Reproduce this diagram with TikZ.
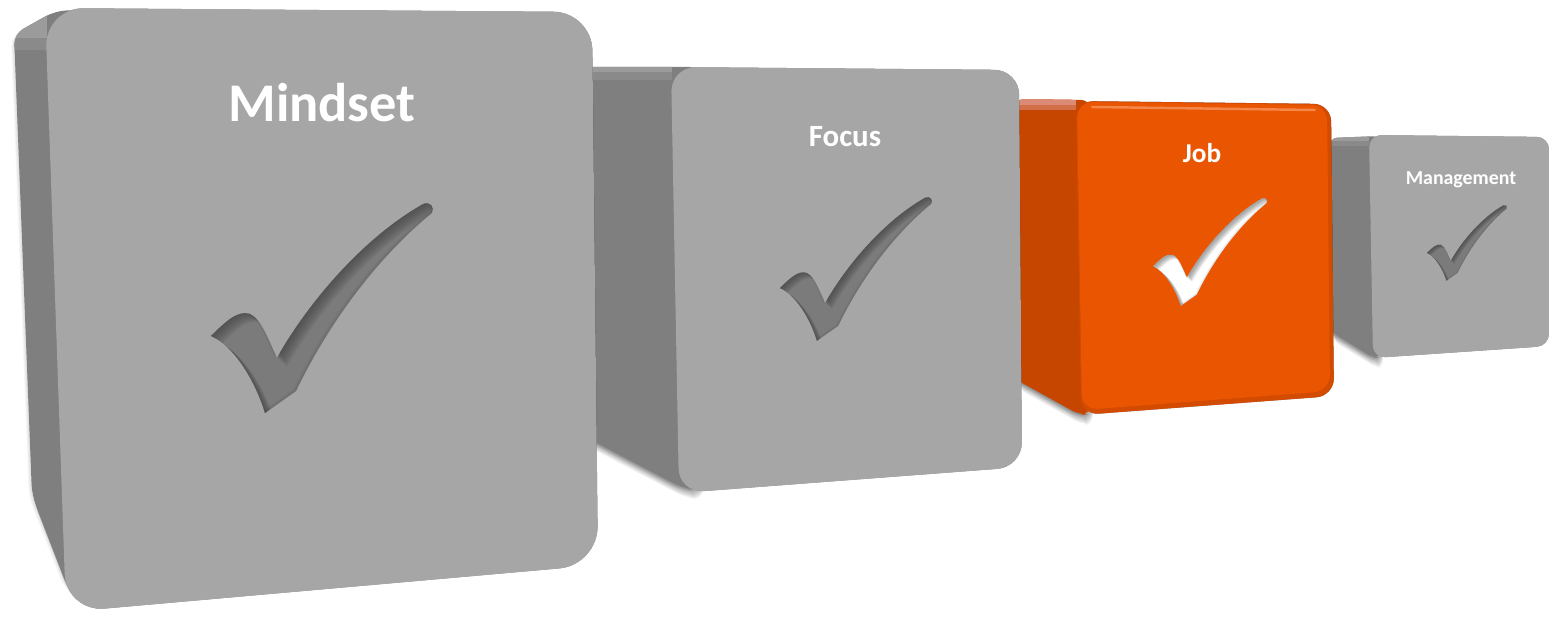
\documentclass[tikz,border=0pt]{standalone}
\usepackage{fontspec}
\setmainfont{Carlito}
\usetikzlibrary{calc}
\definecolor{frontgray}{HTML}{A6A6A6}
\definecolor{sidegray}{HTML}{7F7F7F}
\definecolor{stripegray}{HTML}{9B9B9B}
\definecolor{stripegrayb}{HTML}{8A8A8A}
\definecolor{checkgray}{HTML}{7B7B7B}
\definecolor{checkshade}{HTML}{3A3A3A}
\definecolor{orangefront}{HTML}{E95500}
\definecolor{orangeedge}{HTML}{D24B00}
\definecolor{orangeside}{HTML}{C64600}
\definecolor{orangestripe}{HTML}{DB8A76}
\definecolor{orangehi}{HTML}{F7955E}
\definecolor{whitecheck}{HTML}{FFFFFF}
\definecolor{whiteshade}{HTML}{5E5E5E}

\newcommand{\checkshape}{(0,0.599) .. controls (0.06,0.54) and (0.12,0.48) .. (0.175,0.50) .. controls (0.225,0.52) and (0.26,0.62) .. (0.297,0.698) .. controls (0.43,0.46) and (0.68,0.16) .. (0.955,0.005) .. controls (0.985,-0.01) and (1.01,0.02) .. (0.995,0.045) .. controls (0.78,0.22) and (0.55,0.50) .. (0.383,0.847) -- (0.243,0.946) .. controls (0.20,0.80) and (0.10,0.64) .. (0,0.599) -- cycle}

\newcommand{\drawcheck}[5]{%
  \begin{scope}[shift={(#1,#2)}, scale=#3]
    \fill[#4] \checkshape;
    \begin{scope}
      \clip \checkshape;
      \foreach \k in {1,...,7}{
        \begin{scope}[shift={(0.0065*\k,0.0055*\k)}]
          \fill[#5, opacity=0.11, even odd rule] (-1,-1) rectangle (2,2) \checkshape;
        \end{scope}}
      \foreach \k in {1,...,3}{
        \begin{scope}[shift={(-0.004*\k,-0.003*\k)}]
          \fill[#5, opacity=0.06, even odd rule] (-1,-1) rectangle (2,2) \checkshape;
        \end{scope}}
    \end{scope}
  \end{scope}}

\newcommand{\cubeshadow}[1]{%
  \foreach \i in {1,...,10}{\fill[black, opacity=0.045, shift={(0.3*\i,1.0*\i)}] #1;}
  \foreach \i in {1,...,4}{\fill[black, opacity=0.03, shift={(-0.8*\i,0.6*\i)}] #1;}}

\tikzset{
  lbl/.style={text=white, font=\bfseries, inner sep=0pt, anchor=base},
  frontface/.style={fill=frontgray},
  sideface/.style={fill=sidegray},
}

\begin{document}
\begin{tikzpicture}[x=0.02cm, y=-0.02cm]
\useasboundingbox (0,0) rectangle (1549,618);

% ---------------- Management (back) ----------------
\coordinate (gTL) at (1369,135);
\coordinate (gTR) at (1549,137);
\coordinate (gBR) at (1549,346);
\coordinate (gBL) at (1373,358);
\newcommand{\gside}{[rounded corners=4pt] (1380,250) -- (1380,357) -- (1374,358) -- (1330,331) -- (1330,138) -- (1380,136) -- cycle}
\newcommand{\gfront}{[rounded corners=7pt] ($(gTL)!.5!(gTR)$) -- (gTR) -- (gBR) -- (gBL) -- (gTL) -- cycle}
\cubeshadow{\gside \gfront}
\fill[sideface] \gside;
\begin{scope}
  \clip \gside;
  \fill[stripegray] (1320,120) rectangle (1369,141);
  \fill[stripegrayb] (1320,141) rectangle (1369,146);
\end{scope}
\fill[frontface] \gfront;
\drawcheck{1427}{205}{80}{checkgray}{checkshade}
\node[lbl, font=\bfseries\fontsize{11.3}{12}\selectfont] (management) at (1461,185) {Management};

% ---------------- Job ----------------
\coordinate (jTL) at (1076,101);
\coordinate (jTR) at (1331,104);
\coordinate (jBR) at (1334,396);
\coordinate (jBL) at (1081,415);
\newcommand{\jside}{[rounded corners=5pt] (1090,250) -- (1090,414) -- (1080,415) -- (1015,379) -- (1015,99) -- (1090,100) -- cycle}
\newcommand{\jfront}{[rounded corners=10pt] ($(jTL)!.5!(jTR)$) -- (jTR) -- (jBR) -- (jBL) -- (jTL) -- cycle}
\newcommand{\jinner}{[rounded corners=9pt] ($($(jTL)!.5!(jTR)$)+(0,1)$) -- ($(jTR)+(-4,1)$) -- ($(jBR)+(-4,-5)$) -- ($(jBL)+(1,-5)$) -- ($(jTL)+(1,1)$) -- cycle}
\cubeshadow{\jside \jfront}
\fill[fill=orangeside] \jside;
\begin{scope}
  \clip \jside;
  \fill[orangestripe] (1000,90) rectangle (1076,105);
  \fill[orangestripe!60!orangeside] (1000,105) rectangle (1076,110);
\end{scope}
\fill[orangeedge] \jfront;
\fill[orangefront] \jinner;
\draw[orangehi, line width=1.4pt, opacity=0.8, line cap=round] ($(jTL)+(16,6)$) -- ($(jTR)+(-16,6)$);
\drawcheck{1153}{198}{114}{whitecheck}{whiteshade}
\node[lbl, font=\bfseries\fontsize{15.5}{16}\selectfont] (job) at (1202,163) {Job};

% ---------------- Focus ----------------
\coordinate (fTL) at (671,67);
\coordinate (fTR) at (1019,70);
\coordinate (fBR) at (1022,467);
\coordinate (fBL) at (679,493);
\newcommand{\fside}{[rounded corners=6pt] (700,300) -- (700,490) -- (683,488) -- (580,434) -- (580,67) -- (700,67) -- cycle}
\newcommand{\ffront}{[rounded corners=14pt] ($(fTL)!.5!(fTR)$) -- (fTR) -- (fBR) -- (fBL) -- (fTL) -- cycle}
\cubeshadow{\fside \ffront}
\fill[sideface] \fside;
\begin{scope}
  \clip \fside;
  \fill[stripegray] (560,60) rectangle (672,72);
  \fill[stripegrayb] (560,72) rectangle (672,80);
\end{scope}
\fill[frontface] \ffront;
\drawcheck{780}{197}{152}{checkgray}{checkshade}
\node[lbl, font=\bfseries\fontsize{17.6}{18}\selectfont] (focus) at (845,147) {Focus};

% ---------------- Mindset (front) ----------------
\coordinate (mTL) at (45,8);
\coordinate (mTR) at (592,12);
\coordinate (mBR) at (598,565);
\coordinate (mBL) at (66,612);
\newcommand{\mside}{[rounded corners=6pt] (100,300) -- (100,590) -- (68,588) -- (32,495) -- (14,34) -- (55,11) -- (100,9) -- cycle}
\newcommand{\mfront}{[rounded corners=22pt] ($(mTL)!.5!(mTR)$) -- (mTR) -- (mBR) -- (mBL) -- (mTL) -- cycle}
\cubeshadow{\mside \mfront}
\fill[sideface] \mside;
\begin{scope}
  \clip \mside;
  \fill[stripegray] (0,0) rectangle (47,38);
  \fill[stripegrayb] (0,38) rectangle (47,50);
\end{scope}
\fill[frontface] \mfront;
\drawcheck{211}{203}{222}{checkgray}{checkshade}
\node[lbl, font=\bfseries\fontsize{31}{32}\selectfont] (mindset) at (322,122) {Mindset};

\end{tikzpicture}
\end{document}
